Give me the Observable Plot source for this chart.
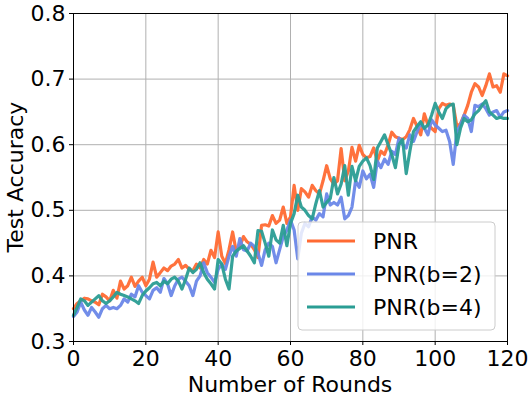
<!DOCTYPE html>
<html>
<head>
<meta charset="utf-8">
<script src="https://cdn.jsdelivr.net/npm/d3@7"></script>
<script src="https://cdn.jsdelivr.net/npm/@observablehq/plot@0.6"></script>
<style>
  html, body { margin: 0; padding: 0; background: white; }
  svg { display: block; }
</style>
</head>
<body>
<div id="chart"></div>
<script>
const seriesNames = ["PNR", "PNR(b=2)", "PNR(b=4)"];
const seriesColors = ["#ff6a33", "#6a87e8", "#2a9d94"];
const xTicks = [0, 20, 40, 60, 80, 100, 120];
const yTicks = [0.3, 0.4, 0.5, 0.6, 0.7, 0.8];
const xLabel = "Number of Rounds";
const yLabel = "Test Accuracy";

const pnr = [
  0.350, 0.358, 0.362, 0.366, 0.365, 0.362, 0.360, 0.356, 0.372, 0.368,
  0.362, 0.378, 0.366, 0.392, 0.380, 0.385, 0.398, 0.384, 0.392, 0.398,
  0.385, 0.395, 0.421, 0.398, 0.405, 0.412, 0.408, 0.415, 0.418, 0.425,
  0.412, 0.416, 0.410, 0.408, 0.418, 0.412, 0.425, 0.418, 0.439, 0.428,
  0.467, 0.430, 0.419, 0.440, 0.467, 0.437, 0.445, 0.460, 0.452, 0.448,
  0.440, 0.428, 0.477, 0.478, 0.476, 0.492, 0.480, 0.485, 0.505, 0.480,
  0.490, 0.538, 0.500, 0.533, 0.528, 0.520, 0.538, 0.530, 0.525, 0.545,
  0.568, 0.548, 0.540, 0.545, 0.594, 0.545, 0.560, 0.596, 0.575, 0.599,
  0.585, 0.580, 0.582, 0.595, 0.575, 0.590, 0.585, 0.600, 0.619, 0.612,
  0.610, 0.608, 0.612, 0.623, 0.640, 0.628, 0.615, 0.647, 0.630, 0.625,
  0.620, 0.655, 0.663, 0.660, 0.662, 0.660, 0.628, 0.632, 0.645, 0.660,
  0.680, 0.693, 0.688, 0.675, 0.690, 0.708, 0.688, 0.690, 0.680, 0.708, 0.705
];
const pnrB2 = [
  0.338, 0.345, 0.360, 0.348, 0.340, 0.352, 0.345, 0.337, 0.350, 0.355,
  0.350, 0.352, 0.350, 0.355, 0.365, 0.360, 0.372, 0.368, 0.385, 0.375,
  0.370, 0.365, 0.378, 0.382, 0.375, 0.396, 0.388, 0.370, 0.385, 0.395,
  0.398, 0.392, 0.385, 0.370, 0.392, 0.400, 0.420, 0.405, 0.398, 0.390,
  0.410, 0.418, 0.410, 0.430, 0.445, 0.430, 0.457, 0.440, 0.438, 0.450,
  0.445, 0.435, 0.416, 0.440, 0.450, 0.445, 0.420, 0.440, 0.460, 0.470,
  0.485, 0.470, 0.426, 0.465, 0.480, 0.475, 0.490, 0.485, 0.495, 0.490,
  0.525, 0.508, 0.512, 0.508, 0.520, 0.487, 0.492, 0.505, 0.545, 0.535,
  0.560, 0.548, 0.555, 0.535, 0.575, 0.565, 0.578, 0.570, 0.590, 0.585,
  0.610, 0.600, 0.595, 0.615, 0.605, 0.620, 0.633, 0.625, 0.615, 0.638,
  0.630, 0.625, 0.620, 0.622, 0.605, 0.570, 0.620, 0.630, 0.645, 0.640,
  0.620, 0.660, 0.658, 0.662, 0.655, 0.645, 0.650, 0.652, 0.642, 0.650, 0.652
];
const pnrB4 = [
  0.340, 0.352, 0.365, 0.362, 0.355, 0.360, 0.365, 0.370, 0.362, 0.358,
  0.362, 0.368, 0.375, 0.372, 0.370, 0.368, 0.365, 0.362, 0.358, 0.370,
  0.377, 0.382, 0.388, 0.390, 0.385, 0.392, 0.388, 0.395, 0.398, 0.392,
  0.380, 0.395, 0.412, 0.405, 0.410, 0.420, 0.405, 0.395, 0.388, 0.380,
  0.425, 0.418, 0.395, 0.380, 0.430, 0.438, 0.442, 0.446, 0.438, 0.430,
  0.420, 0.469, 0.468, 0.450, 0.430, 0.470, 0.455, 0.450, 0.477, 0.446,
  0.480, 0.495, 0.523, 0.505, 0.500, 0.492, 0.487, 0.510, 0.530, 0.505,
  0.512, 0.518, 0.550, 0.525, 0.540, 0.568, 0.523, 0.567, 0.545, 0.567,
  0.575, 0.580, 0.568, 0.547, 0.595, 0.605, 0.615, 0.600, 0.585, 0.565,
  0.600, 0.608, 0.556, 0.590, 0.620, 0.628, 0.635, 0.625, 0.630, 0.645,
  0.663, 0.650, 0.640, 0.655, 0.660, 0.662, 0.600, 0.625, 0.640, 0.635,
  0.638, 0.647, 0.652, 0.660, 0.667, 0.650, 0.645, 0.640, 0.642, 0.640, 0.640
];

const allSeries = [pnr, pnrB2, pnrB4];
const data = [];
allSeries.forEach((vals, si) => {
  vals.forEach((v, i) => data.push({ round: i, acc: v, series: seriesNames[si] }));
});

const W = 529, H = 397;
const mL = 73, mR = 22, mT = 13, mB = 56;
const FONT = "DejaVu Sans";
const FS = 22;

const chart = Plot.plot({
  width: W,
  height: H,
  marginLeft: mL,
  marginRight: mR,
  marginTop: mT,
  marginBottom: mB,
  style: { fontFamily: FONT, fontSize: FS + "px", background: "white", color: "black" },
  x: { domain: [0, 120] },
  y: { domain: [0.3, 0.8] },
  color: { domain: seriesNames, range: seriesColors },
  marks: [
    Plot.gridX(xTicks, { stroke: "#b0b0b0", strokeOpacity: 1, strokeWidth: 1 }),
    Plot.gridY(yTicks, { stroke: "#b0b0b0", strokeOpacity: 1, strokeWidth: 1 }),
    Plot.line(data, { x: "round", y: "acc", z: "series", stroke: "series", strokeWidth: 3.2, strokeOpacity: 0.95, curve: "linear" }),
    Plot.frame({ stroke: "black", strokeWidth: 1 }),
    Plot.axisX(xTicks, { tickSize: 4, tickPadding: 5, fontSize: FS, label: null, tickFormat: d => String(d) }),
    Plot.axisY(yTicks, { tickSize: 4, tickPadding: 4, fontSize: FS, label: null, tickFormat: d => d.toFixed(1) })
  ]
});

document.getElementById("chart").appendChild(chart);

const svg = d3.select(chart);
// axis titles
svg.append("text")
  .attr("x", mL + (W - mL - mR) / 2)
  .attr("y", 392)
  .attr("text-anchor", "middle")
  .attr("font-family", FONT)
  .attr("font-size", FS)
  .attr("fill", "black")
  .text(xLabel);
svg.append("text")
  .attr("transform", `translate(23,${mT + (H - mT - mB) / 2}) rotate(-90)`)
  .attr("text-anchor", "middle")
  .attr("font-family", FONT)
  .attr("font-size", FS)
  .attr("fill", "black")
  .text(yLabel);

// legend
const lg = svg.append("g");
lg.append("rect")
  .attr("x", 298).attr("y", 222).attr("width", 197).attr("height", 108)
  .attr("rx", 4)
  .attr("fill", "white").attr("fill-opacity", 0.8)
  .attr("stroke", "#cccccc").attr("stroke-width", 1);
seriesNames.forEach((name, i) => {
  const yy = 241 + i * 33;
  lg.append("line")
    .attr("x1", 307).attr("x2", 355).attr("y1", yy).attr("y2", yy)
    .attr("stroke", seriesColors[i]).attr("stroke-width", 3.2);
  lg.append("text")
    .attr("x", 373).attr("y", yy + 8)
    .attr("text-anchor", "start")
    .attr("font-family", FONT).attr("font-size", FS).attr("fill", "black")
    .text(name);
});
</script>
</body>
</html>
